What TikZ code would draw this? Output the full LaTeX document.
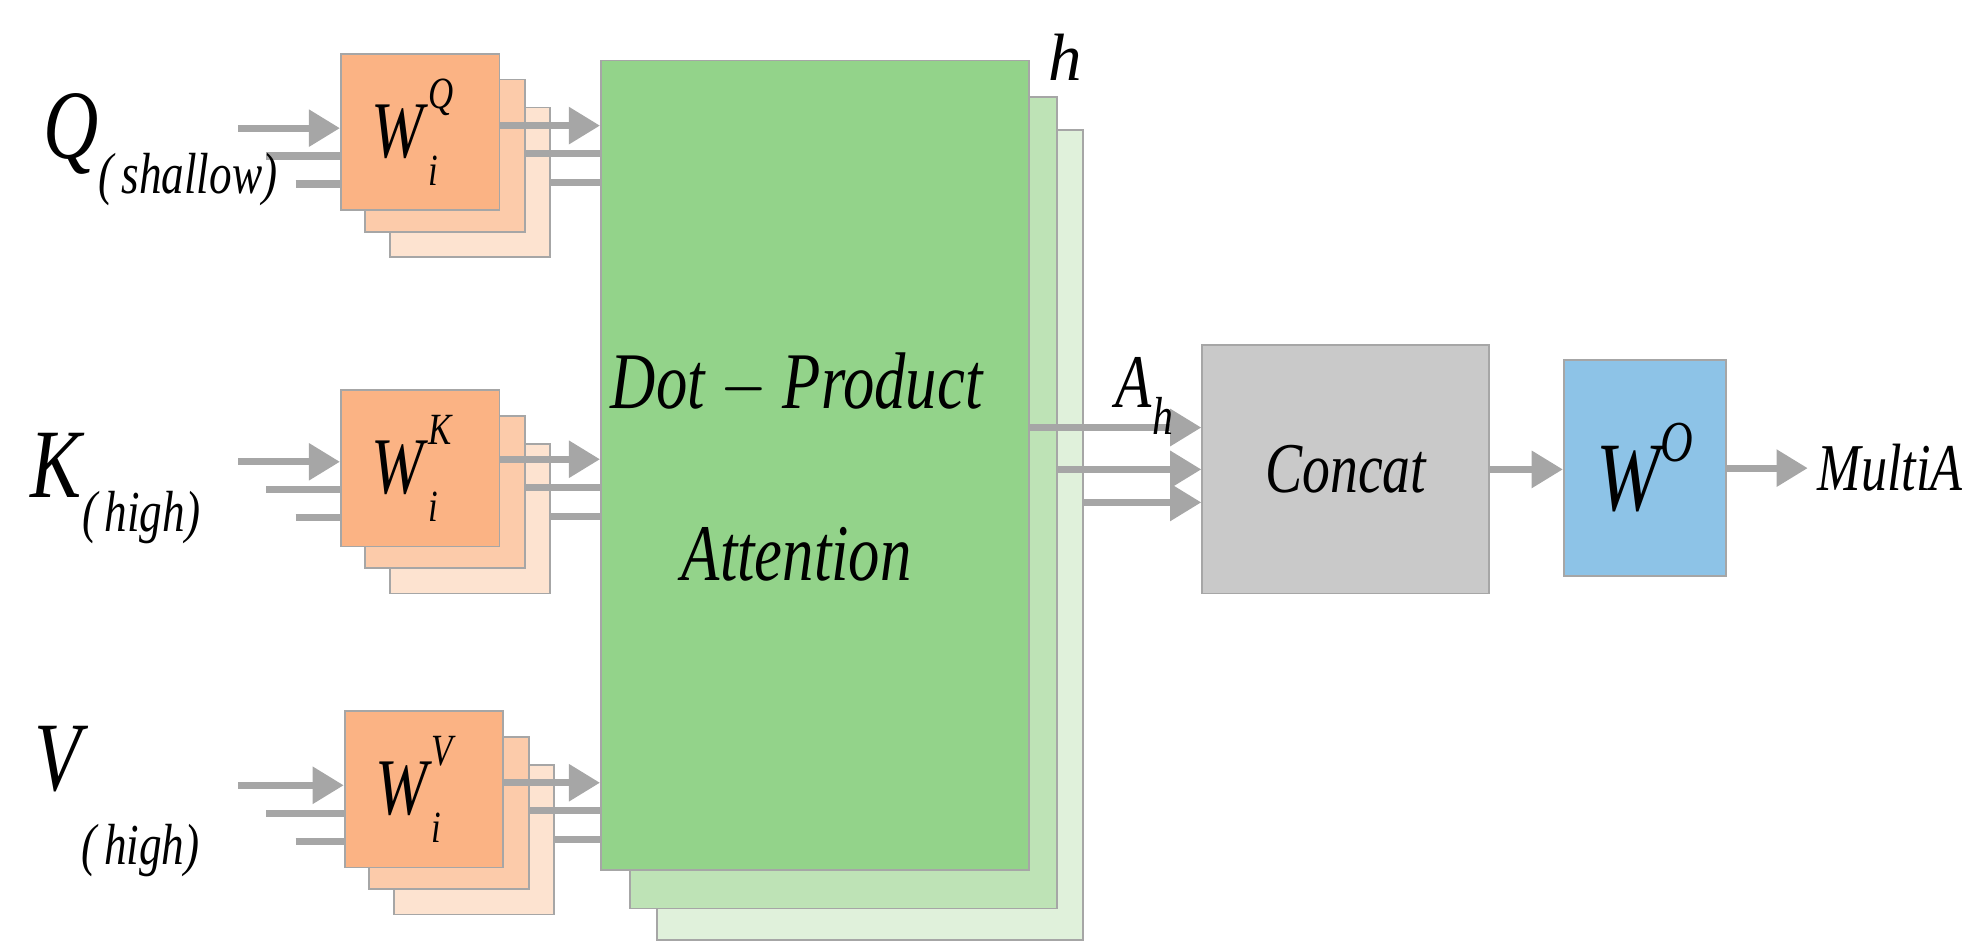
\documentclass[tikz,border=0pt]{standalone}
\usepackage{fontspec}
\setmainfont{Liberation Serif}
\usetikzlibrary{arrows.meta}
\definecolor{or1}{HTML}{FBB384}
\definecolor{or2}{HTML}{FCCBAA}
\definecolor{or3}{HTML}{FDE3D0}
\definecolor{gr1}{HTML}{93D38A}
\definecolor{gr2}{HTML}{BEE3B6}
\definecolor{gr3}{HTML}{E0F1DB}
\definecolor{gy}{HTML}{C9C9C9}
\definecolor{bl}{HTML}{8DC3E7}
\definecolor{ln}{HTML}{A6A6A6}
\newcommand{\cond}[1]{\scalebox{0.78}[1]{#1}}
\newcommand{\Wsup}[2]{\cond{\textit{W}\rlap{\raisebox{0.6em}{\fontsize{10}{10}\selectfont\itshape #1}}\raisebox{-0.35em}{\fontsize{10}{10}\selectfont\itshape #2}\hspace{0.5em}}}
\begin{document}
\begin{tikzpicture}[x=0.01cm,y=-0.01cm,
  box/.style={draw=ln,line width=0.4pt,minimum width=#1,inner sep=0,anchor=north west},
  arr/.style={draw=ln,line width=1.6pt,-{Triangle[length=7pt,width=8pt]}},
  ln/.style={draw=ln,line width=1.6pt},
  lab/.style={font=\fontsize{22}{22}\selectfont\itshape}]
\useasboundingbox (0,0) rectangle (1560,750);
% green stack
\node[box=3.36cm,minimum height=6.38cm,fill=gr3] (g3) at (517,102) {};
\node[box=3.36cm,minimum height=6.39cm,fill=gr2] (g2) at (496,76) {};
\node[box=3.37cm,minimum height=6.38cm,fill=gr1] (g1) at (473,47) {};
\node[font=\fontsize{18}{26}\selectfont\itshape,align=center] at (628,368) {\cond{Dot $-$ Product}\\[0.7em]\cond{Attention}};
\node[font=\fontsize{15}{15}\selectfont\itshape] (h) at (840,45) {h};
% W boxes
\foreach \n/\x/\y/\s in {Q/268/42/Q,K/268/307/K,V/271/560/V}{
  \node[box=1.26cm,minimum height=1.18cm,fill=or3] (\n3) at (\x+39,\y+42) {};
  \node[box=1.26cm,minimum height=1.2cm,fill=or2] (\n2) at (\x+19,\y+20) {};
  \node[box=1.25cm,minimum height=1.23cm,fill=or1,font=\fontsize{18}{18}\selectfont] (\n1) at (\x,\y) {\Wsup{\s}{i}};
}
% input/output lines
\foreach \n/\y in {Q/101,K/364,V/619}{
  \coordinate (\n i1) at (188,\y); \coordinate (\n i2) at (210,\y+22); \coordinate (\n i3) at (233,\y+44);
  \draw[arr] (\n i1) -- (\n i1 -| \n1.west);
  \draw[ln] (\n i2) -- (\n i2 -| \n1.west);
  \draw[ln] (\n i3) -- (\n i3 -| \n1.west);
  \draw[arr] (\n1.east |- 0,\y-2) -- (g1.west |- 0,\y-2);
  \draw[ln] (\n2.east |- 0,\y+20) -- (g1.west |- 0,\y+20);
  \draw[ln] (\n3.east |- 0,\y+43) -- (g1.west |- 0,\y+43);
}
\node[lab,anchor=west] at (22,118) {\cond{Q\raisebox{-0.35em}{\fontsize{13}{13}\selectfont(\,shallow)}}};
\node[lab,anchor=west] at (12,385) {\cond{K\raisebox{-0.35em}{\fontsize{13}{13}\selectfont(\,high)}}};
\node[lab,anchor=west] at (15,632) {\cond{V\raisebox{-0.75em}{\fontsize{13}{13}\selectfont(\,high)}}};
% concat
\node[box=2.26cm,minimum height=1.96cm,fill=gy,font=\fontsize{16}{16}\selectfont\itshape] (cc) at (947,271) {\cond{Concat}};
\draw[arr] (g1.east |- 0,337) -- (cc.west |- 0,337);
\draw[arr] (g2.east |- 0,370) -- (cc.west |- 0,370);
\draw[arr] (g3.east |- 0,396) -- (cc.west |- 0,396);
\node[font=\fontsize{17}{17}\selectfont] (ah) at (902,312) {\cond{\textit{A}\raisebox{-0.35em}{\fontsize{12}{12}\selectfont\itshape h}}};
\node[box=1.28cm,minimum height=1.7cm,fill=bl,font=\fontsize{22}{22}\selectfont\itshape] (wo) at (1232,283) {\cond{W\raisebox{0.5em}{\fontsize{13}{13}\selectfont O}}};
\draw[arr] (cc.east |- 0,370) -- (wo.west |- 0,370);
\node[font=\fontsize{15}{15}\selectfont\itshape,anchor=west,inner sep=2pt] (ma) at (1425,369) {\cond{MultiA}};
\draw[arr] (wo.east |- 0,369) -- (ma.west);
\end{tikzpicture}
\end{document}
